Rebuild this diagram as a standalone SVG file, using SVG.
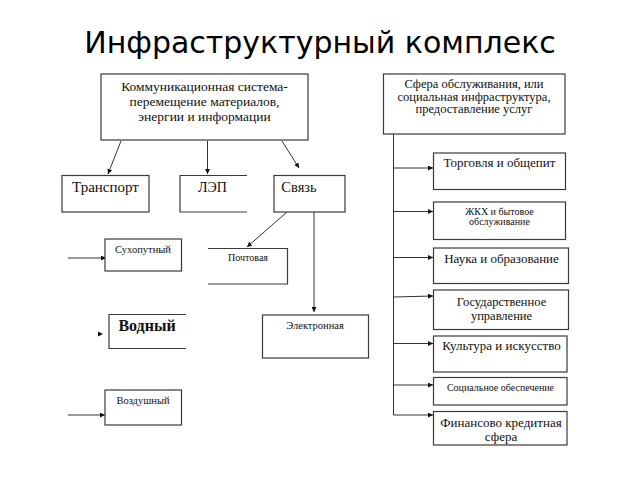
<svg xmlns="http://www.w3.org/2000/svg" width="640" height="480" viewBox="0 0 640 480">
<defs>
<style>
.box{fill:#fff;stroke:#3a3a3a;stroke-width:1.2}
.open{fill:none;stroke:#3a3a3a;stroke-width:1.2}
.t{font-family:"Liberation Serif","Times New Roman",serif;fill:#111;text-anchor:middle}
.c{stroke:#333;stroke-width:1;fill:none}
.title{font-family:"DejaVu Sans",sans-serif;font-size:30px;fill:#000;text-anchor:middle}
</style>
<marker id="ah" viewBox="0 0 10 10" refX="10" refY="5" markerWidth="5" markerHeight="5" orient="auto" markerUnits="userSpaceOnUse">
<path d="M0,0 L10,5 L0,10 z" fill="#111"/>
</marker>
</defs>
<rect width="640" height="480" fill="#fff"/>
<text class="title" x="320" y="53">Инфраструктурный комплекс</text>

<g id="connectors">
<line class="c" x1="121" y1="141" x2="108" y2="174" marker-end="url(#ah)"/>
<line class="c" x1="207.5" y1="141" x2="207.5" y2="174" marker-end="url(#ah)"/>
<line class="c" x1="282" y1="141" x2="299" y2="168" marker-end="url(#ah)"/>
<line class="c" x1="287" y1="212" x2="247" y2="247" marker-end="url(#ah)"/>
<line class="c" x1="314" y1="212" x2="314" y2="312" marker-end="url(#ah)"/>
<line class="c" x1="68" y1="258" x2="106" y2="258" marker-end="url(#ah)"/>
<path d="M98,331.5 L103,334 L98,336.5 z" fill="#111"/>
<line class="c" x1="68" y1="415" x2="105" y2="415" marker-end="url(#ah)"/>
<line class="c" x1="393.5" y1="134" x2="393.5" y2="415"/>
<line class="c" x1="393.5" y1="168" x2="433" y2="168" marker-end="url(#ah)"/>
<line class="c" x1="393.5" y1="211.5" x2="433" y2="211.5" marker-end="url(#ah)"/>
<line class="c" x1="393.5" y1="257.5" x2="433" y2="257.5" marker-end="url(#ah)"/>
<line class="c" x1="393.5" y1="297" x2="433" y2="296" marker-end="url(#ah)"/>
<line class="c" x1="393.5" y1="343.5" x2="433" y2="343.5" marker-end="url(#ah)"/>
<line class="c" x1="393.5" y1="385" x2="433" y2="385" marker-end="url(#ah)"/>
<line class="c" x1="393.5" y1="415" x2="433" y2="415" marker-end="url(#ah)"/>
</g>

<g id="n-comm">
<rect class="box" x="101" y="74" width="207" height="66"/>
<text class="t" font-size="13.5" x="204.5" y="91">Коммуникационная система-</text>
<text class="t" font-size="13.5" x="204.5" y="106">перемещение материалов,</text>
<text class="t" font-size="13.5" x="204.5" y="121">энергии и информации</text>
</g>
<g id="n-transport">
<rect class="box" x="62" y="175.5" width="87" height="36.5"/>
<text class="t" font-size="15" x="105.5" y="191.5">Транспорт</text>
</g>
<g id="n-lep">
<path class="open" d="M247,175.5 H180 V212 H247"/>
<text class="t" font-size="14" x="212.5" y="191.5">ЛЭП</text>
</g>
<g id="n-svyaz">
<rect class="box" x="274" y="175.5" width="71" height="36.5"/>
<text class="t" font-size="14.5" x="299" y="191.5">Связь</text>
</g>
<g id="n-sukhoput">
<rect class="box" x="105" y="239" width="76.5" height="32"/>
<text class="t" font-size="10.5" x="143" y="253">Сухопутный</text>
</g>
<g id="n-pocht">
<path class="open" d="M208,248.5 H287.5 V284 H208"/>
<text class="t" font-size="10" x="248" y="260.5">Почтовая</text>
</g>
<g id="n-vodny">
<path class="open" d="M186,314.5 H109 V348.5 H186"/>
<text class="t" font-size="16" font-weight="bold" x="147" y="331">Водный</text>
</g>
<g id="n-elektr">
<rect class="box" x="262.5" y="315" width="106" height="43"/>
<text class="t" font-size="10.5" x="315" y="328.5">Электронная</text>
</g>
<g id="n-vozd">
<rect class="box" x="105" y="390" width="76.5" height="35"/>
<text class="t" font-size="10.5" x="143" y="403.5">Воздушный</text>
</g>

<g id="n-sfera">
<rect class="box" x="383.5" y="74" width="181.5" height="60"/>
<text class="t" font-size="12.5" x="474" y="88">Сфера обслуживания, или</text>
<text class="t" font-size="12.5" x="474" y="100.5">социальная инфраструктура,</text>
<text class="t" font-size="12.5" x="474" y="113">предоставление услуг</text>
</g>
<g id="n-torg">
<rect class="box" x="433.5" y="153" width="132" height="36.5"/>
<text class="t" font-size="13" x="499.5" y="166.5">Торговля и общепит</text>
</g>
<g id="n-zhkh">
<rect class="box" x="433.5" y="202" width="132" height="37.5"/>
<text class="t" font-size="10" x="499.5" y="215">ЖКХ и бытовое</text>
<text class="t" font-size="10" x="499.5" y="225">обслуживание</text>
</g>
<g id="n-nauka">
<rect class="box" x="433.5" y="248" width="135" height="35.5"/>
<text class="t" font-size="13" x="501.5" y="262.5">Наука и образование</text>
</g>
<g id="n-gos">
<rect class="box" x="433.5" y="290" width="135" height="39.5"/>
<text class="t" font-size="12.5" x="501.5" y="305.5">Государственное</text>
<text class="t" font-size="12.5" x="501.5" y="320">управление</text>
</g>
<g id="n-kult">
<rect class="box" x="433.5" y="336" width="133.5" height="36"/>
<text class="t" font-size="13" x="501.5" y="349.5">Культура и искусство</text>
</g>
<g id="n-soc">
<rect class="box" x="433.5" y="377.5" width="133.5" height="27.5"/>
<text class="t" font-size="10" x="500.5" y="390.5">Социальное обеспечение</text>
</g>
<g id="n-fin">
<rect class="box" x="433.5" y="411.5" width="133.5" height="33.5"/>
<text class="t" font-size="13" x="501" y="427">Финансово  кредитная</text>
<text class="t" font-size="13" x="501" y="440.5">сфера</text>
</g>
</svg>
